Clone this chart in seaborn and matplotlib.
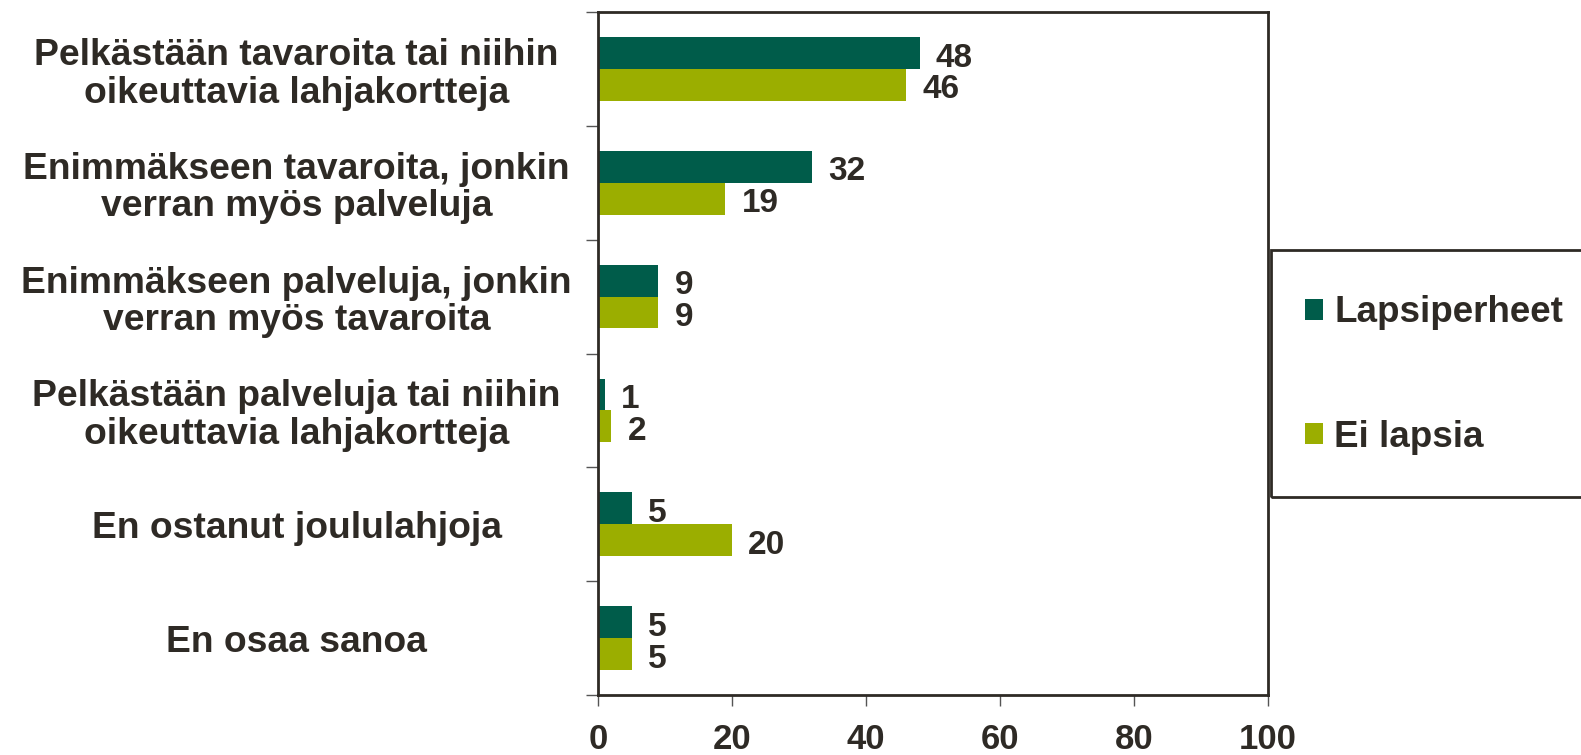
import pandas as pd
import matplotlib.pyplot as plt
import seaborn as sns
from matplotlib.patches import Patch, Rectangle

# data
categories = [
    'Pelkästään tavaroita tai niihin\noikeuttavia lahjakortteja',
    'Enimmäkseen tavaroita, jonkin\nverran myös palveluja',
    'Enimmäkseen palveluja, jonkin\nverran myös tavaroita',
    'Pelkästään palveluja tai niihin\noikeuttavia lahjakortteja',
    'En ostanut joululahjoja',
    'En osaa sanoa',
]
series = ['Lapsiperheet', 'Ei lapsia']
lapsiperheet = [48, 32, 9, 1, 5, 5]
ei_lapsia = [46, 19, 9, 2, 20, 5]
x_ticks = [0, 20, 40, 60, 80, 100]

colors = ['#005C4A', '#9BAE00']
text_color = '#2E2A25'

df = pd.DataFrame({
    'kategoria': categories * 2,
    'ryhma': [series[0]] * len(categories) + [series[1]] * len(categories),
    'arvo': lapsiperheet + ei_lapsia,
})

sns.set_style('white')
plt.rcParams['font.family'] = ['Liberation Sans', 'DejaVu Sans']
plt.rcParams['font.weight'] = 'bold'

W, H = 1581, 755
fig = plt.figure(figsize=(W / 100, H / 100), dpi=100)
ax = fig.add_axes([598 / W, 1 - 695 / H, 670 / W, 683 / H])

sns.barplot(data=df, y='kategoria', x='arvo', hue='ryhma', order=categories,
            hue_order=series, palette=colors, orient='h', width=0.56,
            saturation=1, ax=ax, legend=False, edgecolor='none')

# value labels
for cont in ax.containers:
    for bar in cont:
        w = bar.get_width()
        ax.text(w + 2.4, bar.get_y() + bar.get_height() / 2 + 0.045,
                f'{w:.0f}', va='center', ha='left', fontsize=24,
                fontweight='bold', color=text_color)

ax.set_xlim(0, 100)
ax.set_ylim(len(categories) - 0.5, -0.5)
ax.set_xticks(x_ticks)
ax.set_xticklabels([str(t) for t in x_ticks], fontsize=25, fontweight='bold',
                   color=text_color)
ax.set_yticks(range(len(categories)))
ax.set_yticklabels(categories, fontsize=26.8, fontweight='bold',
                   color=text_color, linespacing=1.1, ha='center')
ax.set_yticks([i - 0.5 for i in range(len(categories) + 1)], minor=True)
ax.tick_params(axis='y', which='major', left=False, length=0, pad=217)
ax.tick_params(axis='y', which='minor', left=True, length=9, width=1,
               color='#555555', direction='out')
ax.tick_params(axis='x', bottom=True, length=8, width=1, color='#555555',
               direction='out', pad=12)
ax.set_xlabel('')
ax.set_ylabel('')
for s in ax.spines.values():
    s.set_visible(True)
    s.set_color(text_color)
    s.set_linewidth(2)

# legend: frame drawn separately, entries placed inside it
fig.patches.append(Rectangle((1271 / W, 1 - 497 / H), 330 / W, 247 / H,
                             transform=fig.transFigure, fill=False,
                             edgecolor=text_color, linewidth=2))
handles = [Patch(facecolor=c, edgecolor='none') for c in colors]
fig.legend(handles, series, loc='center left',
           bbox_to_anchor=(1305 / W, 1 - 375 / H),
           prop={'size': 26.5, 'weight': 'bold'}, labelcolor=text_color,
           handlelength=0.5, handleheight=0.5, handletextpad=0.3,
           labelspacing=2.43, borderpad=0, borderaxespad=0, frameon=False)

plt.savefig('out.png', dpi=100)
